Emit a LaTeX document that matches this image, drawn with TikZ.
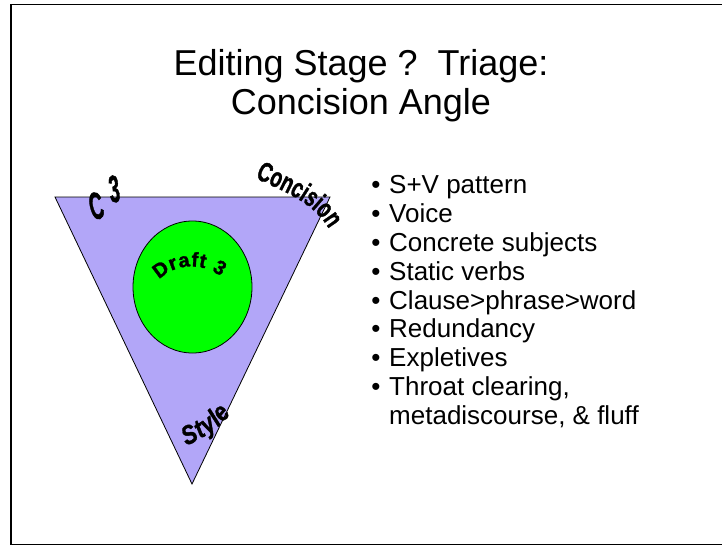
\documentclass[tikz,border=0pt]{standalone}
\usepackage{fontspec}
\setmainfont{Liberation Sans}
\newfontfamily\artfont[FakeBold=1.5]{Liberation Sans Bold}
\newfontfamily\artfontit[FakeBold=1.5]{Liberation Sans Bold Italic}
\definecolor{trifill}{RGB}{178,166,248}
\definecolor{ballfill}{RGB}{0,255,0}
\begin{document}
\begin{tikzpicture}[x=1pt,y=-1pt,
  titletext/.style={font=\fontsize{36}{36}\selectfont, anchor=base, inner sep=0pt},
  itemtext/.style={font=\fontsize{26}{26}\selectfont, anchor=base west, inner sep=0pt},
  bulletdot/.style={font=\fontsize{26}{26}\selectfont, anchor=base, inner sep=0pt},
  artletter/.style={inner sep=0pt, font=\artfontit\fontsize{24}{24}\selectfont},
  arcletter/.style={inner sep=0pt, sloped, anchor=base}]
\useasboundingbox (0,0) rectangle (722,546);
\fill[white] (0,0) rectangle (722,546);
\draw[line width=1.5pt] (11,4.5) rectangle (760,544.5);
% title
\node[titletext] (t1) at (361,75) {Editing Stage ?\ \ Triage:};
\node[titletext] (t2) at (361,114) {Concision Angle};
% triangle and circle
\draw[fill=trifill, line width=0.8pt] (55,197) -- (330,197) -- (192,484) -- cycle;
\draw[fill=ballfill, line width=0.8pt] (192.5,287) ellipse [x radius=59.5, y radius=66];
% word art
\node[artletter, rotate=18] (c) at (96,206) {\scalebox{0.8}[1.6]{C}};
\node[artletter, rotate=12] (three) at (114,189) {\scalebox{0.8}[1.6]{3}};
% Concision
\path (255,178) .. controls (283,191) and (313.5,202) .. (329,229)
  foreach \l/\p [count=\k] in {C/0.075, o/0.213, n/0.339, c/0.460, i/0.546, s/0.632, i/0.719, o/0.810, n/0.937}
  {node[arcletter, pos=\p, font=\artfont\fontsize{19}{19}\selectfont] (con\k) {\scalebox{1}[1.45]{\l}}};
% Draft 3
\path (159,280) .. controls (174,263) and (204,262) .. (221,277)
  foreach \l/\p [count=\k] in {D/0.114, r/0.286, a/0.435, f/0.575, t/0.681, 3/0.912}
  {node[arcletter, pos=\p, font=\artfont\fontsize{20}{20}\selectfont] (dr\k) {\l}};
% Style
\path (186,446) .. controls (202.9,438.1) and (220.3,428.2) .. (231,413)
  foreach \l/\p [count=\k] in {S/0.140, t/0.349, y/0.535, l/0.709, e/0.884}
  {node[arcletter, pos=\p, font=\artfontit\fontsize{22}{22}\selectfont] (sty\k) {\scalebox{1}[1.2]{\l}}};
% bullets
\foreach \txt [count=\i] in {S+V pattern, Voice, Concrete subjects, Static verbs, Clause>phrase>word, Redundancy, Expletives, {Throat clearing,}} {
  \node[bulletdot] (b\i) at (376,{165+28.8*\i}) {•};
  \node[itemtext] (i\i) at (389,{165+28.8*\i}) {\txt};
}
\node[itemtext] (i9) at (389,{165+28.8*9}) {metadiscourse, \& fluff};
\end{tikzpicture}
\end{document}
